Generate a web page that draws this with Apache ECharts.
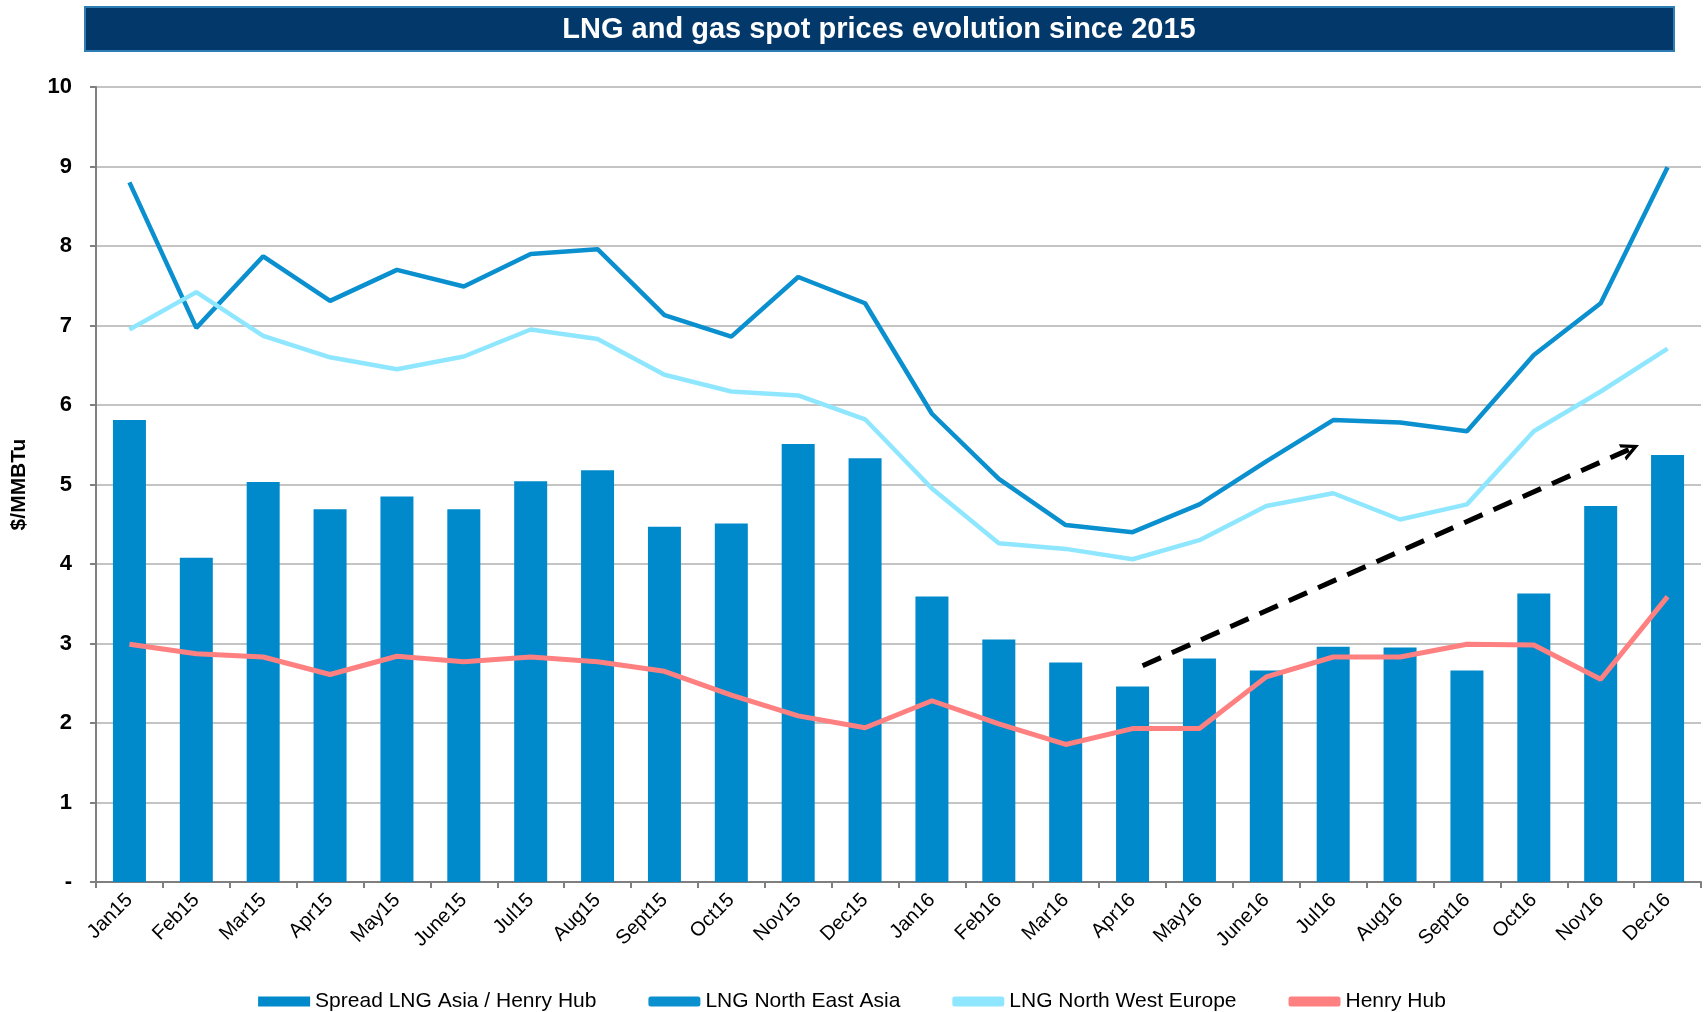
<!DOCTYPE html>
<html>
<head>
<meta charset="utf-8">
<script src="https://cdn.jsdelivr.net/npm/echarts@6/dist/echarts.min.js"></script>
<style>
  html, body { margin: 0; padding: 0; background: #fff; }
  #chart { width: 1704px; height: 1012px; }
</style>
</head>
<body>
<div id="chart"></div>
<script>
// months on the x axis
const months = ['Jan15', 'Feb15', 'Mar15', 'Apr15', 'May15', 'June15', 'Jul15', 'Aug15', 'Sept15', 'Oct15', 'Nov15', 'Dec15',
  'Jan16', 'Feb16', 'Mar16', 'Apr16', 'May16', 'June16', 'Jul16', 'Aug16', 'Sept16', 'Oct16', 'Nov16', 'Dec16']

// $/MMBTu
const spread = [5.81, 4.08, 5.03, 4.69, 4.85, 4.69, 5.04, 5.18, 4.47, 4.51, 5.51, 5.33,
  3.59, 3.05, 2.76, 2.46, 2.81, 2.66, 2.96, 2.95, 2.66, 3.63, 4.73, 5.37]
const northEastAsia = [8.80, 6.97, 7.87, 7.31, 7.70, 7.49, 7.90, 7.96, 7.13, 6.86, 7.61, 7.28,
  5.89, 5.07, 4.49, 4.40, 4.75, 5.29, 5.81, 5.78, 5.67, 6.63, 7.28, 8.99]
const northWestEurope = [6.95, 7.42, 6.87, 6.60, 6.45, 6.61, 6.95, 6.83, 6.38, 6.17, 6.12, 5.82,
  4.95, 4.26, 4.19, 4.06, 4.30, 4.73, 4.89, 4.56, 4.75, 5.67, 6.17, 6.71]
const henryHub = [2.99, 2.87, 2.83, 2.61, 2.84, 2.77, 2.83, 2.77, 2.65, 2.35, 2.09, 1.94,
  2.28, 1.99, 1.73, 1.93, 1.93, 2.58, 2.83, 2.83, 2.99, 2.98, 2.55, 3.59]

// trend arrow (category index, value)
const trendArrow = [[15.15, 2.72], [22.45, 5.45]]

const font = 'Arial, "Liberation Sans", sans-serif'
const chart = echarts.init(document.getElementById('chart'))

chart.setOption({
  animation: false,
  textStyle: { fontFamily: font },
  graphic: [
    {
      type: 'rect',
      shape: { x: 85, y: 7, width: 1589, height: 44 },
      style: { fill: '#03386A', stroke: '#2E7DB3', lineWidth: 2 },
      z: 10,
    },
    {
      type: 'text',
      x: 879,
      y: 30,
      style: {
        text: 'LNG and gas spot prices evolution since 2015',
        fill: '#fff',
        font: 'bold 29px ' + font,
        align: 'center',
        verticalAlign: 'middle',
      },
      z: 11,
    },
  ],
  grid: { left: 96, right: 3, top: 87, bottom: 130 },
  legend: {
    top: 986,
    left: 'center',
    itemGap: 52,
    itemWidth: 52,
    itemHeight: 10,
    textStyle: { fontSize: 21, color: '#000', fontFamily: font },
    data: [
      { name: 'Spread LNG Asia / Henry Hub', icon: 'rect' },
      { name: 'LNG North East Asia', icon: 'roundRect' },
      { name: 'LNG North West Europe', icon: 'roundRect' },
      { name: 'Henry Hub', icon: 'roundRect' },
    ],
  },
  xAxis: [
    {
      type: 'category',
      data: months,
      axisLine: { lineStyle: { color: '#7F7F7F', width: 2 } },
      axisTick: { show: true, interval: 0, length: 6, lineStyle: { color: '#7F7F7F', width: 2 } },
      axisLabel: { interval: 0, rotate: 45, fontSize: 20, color: '#000', margin: 15 },
    },
    { type: 'value', min: -0.5, max: 23.5, show: false },
  ],
  yAxis: {
    type: 'value',
    min: 0,
    max: 10,
    interval: 1,
    name: '$/MMBTu',
    nameLocation: 'middle',
    nameGap: 66,
    nameTextStyle: { fontSize: 21, fontWeight: 'bold', color: '#000' },
    axisLine: { show: true, onZero: false, lineStyle: { color: '#7F7F7F', width: 2 } },
    axisTick: { show: true, length: 6, lineStyle: { color: '#7F7F7F', width: 2 } },
    axisLabel: {
      fontSize: 22,
      fontWeight: 'bold',
      color: '#000',
      margin: 24,
      formatter: (v) => (v === 0 ? '-' : v),
    },
    splitLine: { lineStyle: { color: '#C4C4C4', width: 2 } },
  },
  series: [
    {
      name: 'Spread LNG Asia / Henry Hub',
      type: 'bar',
      data: spread,
      barWidth: 33,
      itemStyle: { color: '#008ACB' },
    },
    {
      name: 'LNG North East Asia',
      type: 'line',
      data: northEastAsia,
      symbol: 'none',
      lineStyle: { color: '#0A8FCF', width: 4.5 },
      itemStyle: { color: '#0A8FCF' },
    },
    {
      name: 'LNG North West Europe',
      type: 'line',
      data: northWestEurope,
      symbol: 'none',
      lineStyle: { color: '#8FE7FF', width: 4.5 },
      itemStyle: { color: '#8FE7FF' },
    },
    {
      name: 'Henry Hub',
      type: 'line',
      data: henryHub,
      symbol: 'none',
      lineStyle: { color: '#FF8080', width: 5 },
      itemStyle: { color: '#FF8080' },
    },
    {
      type: 'lines',
      coordinateSystem: 'cartesian2d',
      xAxisIndex: 1,
      yAxisIndex: 0,
      symbol: ['none', 'path://M0,12 L6,0 L12,12 L9.5,12 L6,5 L2.5,12 Z'],
      symbolSize: [22, 18],
      lineStyle: { color: '#000', width: 5, type: [20, 12], opacity: 1 },
      data: [{ coords: trendArrow }],
      z: 5,
    },
  ],
})
</script>
</body>
</html>
